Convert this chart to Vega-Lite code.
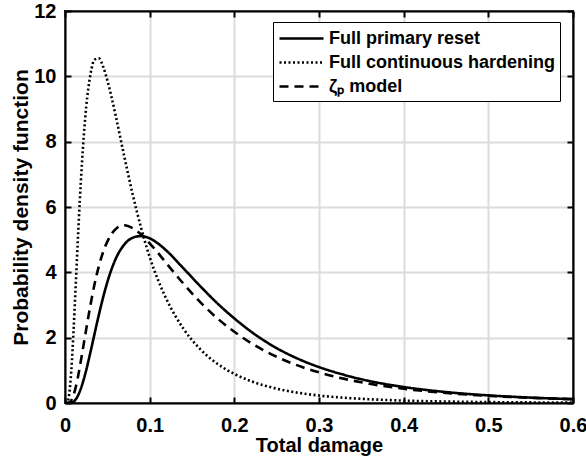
{
"$schema": "https://vega.github.io/schema/vega-lite/v6.json",
"width": 508,
"height": 392,
"autosize": {"type": "none"},
"padding": {"left": 65, "top": 11, "right": 13, "bottom": 63},
"background": "white",
"config": {"font": "Liberation Sans", "view": {"stroke": "black", "strokeWidth": 2}},
"data": {"values": [
{"series":"Full primary reset","x":0,"y":0},
{"series":"Full primary reset","x":0.005,"y":0.001},
{"series":"Full primary reset","x":0.01,"y":0.04},
{"series":"Full primary reset","x":0.015,"y":0.21},
{"series":"Full primary reset","x":0.02,"y":0.54},
{"series":"Full primary reset","x":0.025,"y":1.0},
{"series":"Full primary reset","x":0.03,"y":1.55},
{"series":"Full primary reset","x":0.035,"y":2.13},
{"series":"Full primary reset","x":0.04,"y":2.7},
{"series":"Full primary reset","x":0.045,"y":3.23},
{"series":"Full primary reset","x":0.05,"y":3.7},
{"series":"Full primary reset","x":0.06,"y":4.42},
{"series":"Full primary reset","x":0.07,"y":4.85},
{"series":"Full primary reset","x":0.08,"y":5.06},
{"series":"Full primary reset","x":0.09,"y":5.11},
{"series":"Full primary reset","x":0.1,"y":5.04},
{"series":"Full primary reset","x":0.11,"y":4.88},
{"series":"Full primary reset","x":0.12,"y":4.66},
{"series":"Full primary reset","x":0.14,"y":4.12},
{"series":"Full primary reset","x":0.16,"y":3.57},
{"series":"Full primary reset","x":0.18,"y":3.05},
{"series":"Full primary reset","x":0.2,"y":2.59},
{"series":"Full primary reset","x":0.22,"y":2.18},
{"series":"Full primary reset","x":0.25,"y":1.68},
{"series":"Full primary reset","x":0.28,"y":1.3},
{"series":"Full primary reset","x":0.3,"y":1.1},
{"series":"Full primary reset","x":0.33,"y":0.86},
{"series":"Full primary reset","x":0.36,"y":0.67},
{"series":"Full primary reset","x":0.4,"y":0.49},
{"series":"Full primary reset","x":0.45,"y":0.335},
{"series":"Full primary reset","x":0.5,"y":0.233},
{"series":"Full primary reset","x":0.55,"y":0.165},
{"series":"Full primary reset","x":0.6,"y":0.118},
{"series":"Full continuous hardening","x":0,"y":0},
{"series":"Full continuous hardening","x":0.0025,"y":0.015},
{"series":"Full continuous hardening","x":0.005,"y":0.274},
{"series":"Full continuous hardening","x":0.0075,"y":1.02},
{"series":"Full continuous hardening","x":0.01,"y":2.17},
{"series":"Full continuous hardening","x":0.0125,"y":3.52},
{"series":"Full continuous hardening","x":0.015,"y":4.9},
{"series":"Full continuous hardening","x":0.0175,"y":6.2},
{"series":"Full continuous hardening","x":0.02,"y":7.33},
{"series":"Full continuous hardening","x":0.025,"y":9.05},
{"series":"Full continuous hardening","x":0.03,"y":10.05},
{"series":"Full continuous hardening","x":0.035,"y":10.51},
{"series":"Full continuous hardening","x":0.04,"y":10.55},
{"series":"Full continuous hardening","x":0.045,"y":10.3},
{"series":"Full continuous hardening","x":0.05,"y":9.88},
{"series":"Full continuous hardening","x":0.055,"y":9.36},
{"series":"Full continuous hardening","x":0.06,"y":8.78},
{"series":"Full continuous hardening","x":0.07,"y":7.55},
{"series":"Full continuous hardening","x":0.08,"y":6.38},
{"series":"Full continuous hardening","x":0.09,"y":5.35},
{"series":"Full continuous hardening","x":0.1,"y":4.47},
{"series":"Full continuous hardening","x":0.11,"y":3.76},
{"series":"Full continuous hardening","x":0.12,"y":3.17},
{"series":"Full continuous hardening","x":0.14,"y":2.27},
{"series":"Full continuous hardening","x":0.16,"y":1.64},
{"series":"Full continuous hardening","x":0.18,"y":1.2},
{"series":"Full continuous hardening","x":0.2,"y":0.89},
{"series":"Full continuous hardening","x":0.22,"y":0.665},
{"series":"Full continuous hardening","x":0.25,"y":0.44},
{"series":"Full continuous hardening","x":0.28,"y":0.295},
{"series":"Full continuous hardening","x":0.3,"y":0.228},
{"series":"Full continuous hardening","x":0.33,"y":0.16},
{"series":"Full continuous hardening","x":0.36,"y":0.114},
{"series":"Full continuous hardening","x":0.4,"y":0.074},
{"series":"Full continuous hardening","x":0.45,"y":0.045},
{"series":"Full continuous hardening","x":0.5,"y":0.028},
{"series":"Full continuous hardening","x":0.55,"y":0.018},
{"series":"Full continuous hardening","x":0.6,"y":0.012},
{"series":"ζₚ model","x":0,"y":0},
{"series":"ζₚ model","x":0.005,"y":0.017},
{"series":"ζₚ model","x":0.01,"y":0.235},
{"series":"ζₚ model","x":0.015,"y":0.76},
{"series":"ζₚ model","x":0.02,"y":1.48},
{"series":"ζₚ model","x":0.025,"y":2.25},
{"series":"ζₚ model","x":0.03,"y":2.99},
{"series":"ζₚ model","x":0.035,"y":3.65},
{"series":"ζₚ model","x":0.04,"y":4.19},
{"series":"ζₚ model","x":0.045,"y":4.62},
{"series":"ζₚ model","x":0.05,"y":4.94},
{"series":"ζₚ model","x":0.06,"y":5.33},
{"series":"ζₚ model","x":0.07,"y":5.44},
{"series":"ζₚ model","x":0.08,"y":5.35},
{"series":"ζₚ model","x":0.09,"y":5.16},
{"series":"ζₚ model","x":0.1,"y":4.89},
{"series":"ζₚ model","x":0.11,"y":4.59},
{"series":"ζₚ model","x":0.12,"y":4.27},
{"series":"ζₚ model","x":0.14,"y":3.65},
{"series":"ζₚ model","x":0.16,"y":3.08},
{"series":"ζₚ model","x":0.18,"y":2.59},
{"series":"ζₚ model","x":0.2,"y":2.18},
{"series":"ζₚ model","x":0.22,"y":1.83},
{"series":"ζₚ model","x":0.25,"y":1.415},
{"series":"ζₚ model","x":0.28,"y":1.1},
{"series":"ζₚ model","x":0.3,"y":0.937},
{"series":"ζₚ model","x":0.33,"y":0.739},
{"series":"ζₚ model","x":0.36,"y":0.587},
{"series":"ζₚ model","x":0.4,"y":0.436},
{"series":"ζₚ model","x":0.45,"y":0.307},
{"series":"ζₚ model","x":0.5,"y":0.219},
{"series":"ζₚ model","x":0.55,"y":0.16},
{"series":"ζₚ model","x":0.6,"y":0.118}
]},
"layer": [
{
"mark": {"type": "line", "color": "black", "strokeWidth": 2.6, "interpolate": "monotone", "clip": true},
"encoding": {
"x": {"field": "x", "type": "quantitative",
  "scale": {"domain": [0, 0.6], "nice": false, "zero": false},
  "axis": {"orient": "bottom", "values": [0, 0.1, 0.2, 0.3, 0.4, 0.5, 0.6], "format": "~g",
    "title": "Total damage", "titleFontSize": 20, "titleFontWeight": "bold", "titleColor": "black",
    "titleBaseline": "alphabetic", "titleY": 48,
    "labelFontSize": 20, "labelFontWeight": "bold", "labelColor": "black", "labelPadding": 18,
    "labelFlush": false, "labelOverlap": false,
    "grid": true, "gridColor": "#dcdcdc", "gridWidth": 2,
    "ticks": true, "tickSize": -6, "tickColor": "black", "tickWidth": 2,
    "domain": true, "domainColor": "black", "domainWidth": 2}},
"y": {"field": "y", "type": "quantitative",
  "scale": {"domain": [0, 12], "nice": false},
  "axis": {"orient": "left", "values": [0, 2, 4, 6, 8, 10, 12],
    "title": "Probability density function", "titleFontSize": 21, "titleFontWeight": "bold", "titleColor": "black",
    "titleBaseline": "alphabetic", "titleX": -38,
    "labelFontSize": 20, "labelFontWeight": "bold", "labelColor": "black", "labelPadding": 15,
    "labelFlush": false, "labelOverlap": false,
    "grid": true, "gridColor": "#dcdcdc", "gridWidth": 2,
    "ticks": true, "tickSize": -6, "tickColor": "black", "tickWidth": 2,
    "domain": true, "domainColor": "black", "domainWidth": 2}},
"strokeDash": {"field": "series", "type": "nominal",
  "scale": {"domain": ["Full primary reset", "Full continuous hardening", "ζₚ model"], "range": [[1, 0], [2, 2.5], [9, 6]]},
  "legend": {"orient": "none", "legendX": 208, "legendY": 11, "title": null,
    "strokeColor": "black", "fillColor": "white", "padding": 5,
    "labelFontSize": 18, "labelFontWeight": "bold", "labelColor": "black", "labelLimit": 0,
    "symbolType": "M-1,0H3.4", "symbolSize": 400, "symbolStrokeWidth": 2.6, "symbolStrokeColor": "black",
    "labelOffset": 28, "rowPadding": 3}}
}
},
{
"mark": {"type": "point", "opacity": 0},
"encoding": {
"x": {"field": "x", "type": "quantitative",
  "axis": {"orient": "top", "values": [0, 0.1, 0.2, 0.3, 0.4, 0.5, 0.6], "labels": false, "title": null, "grid": false,
    "ticks": true, "tickSize": -6, "tickColor": "black", "tickWidth": 2, "domain": true, "domainColor": "black", "domainWidth": 2}},
"y": {"field": "y", "type": "quantitative",
  "axis": {"orient": "right", "values": [0, 2, 4, 6, 8, 10, 12], "labels": false, "title": null, "grid": false,
    "ticks": true, "tickSize": -6, "tickColor": "black", "tickWidth": 2, "domain": true, "domainColor": "black", "domainWidth": 2}}
}
}
],
"resolve": {"axis": {"x": "independent", "y": "independent"}}
}
